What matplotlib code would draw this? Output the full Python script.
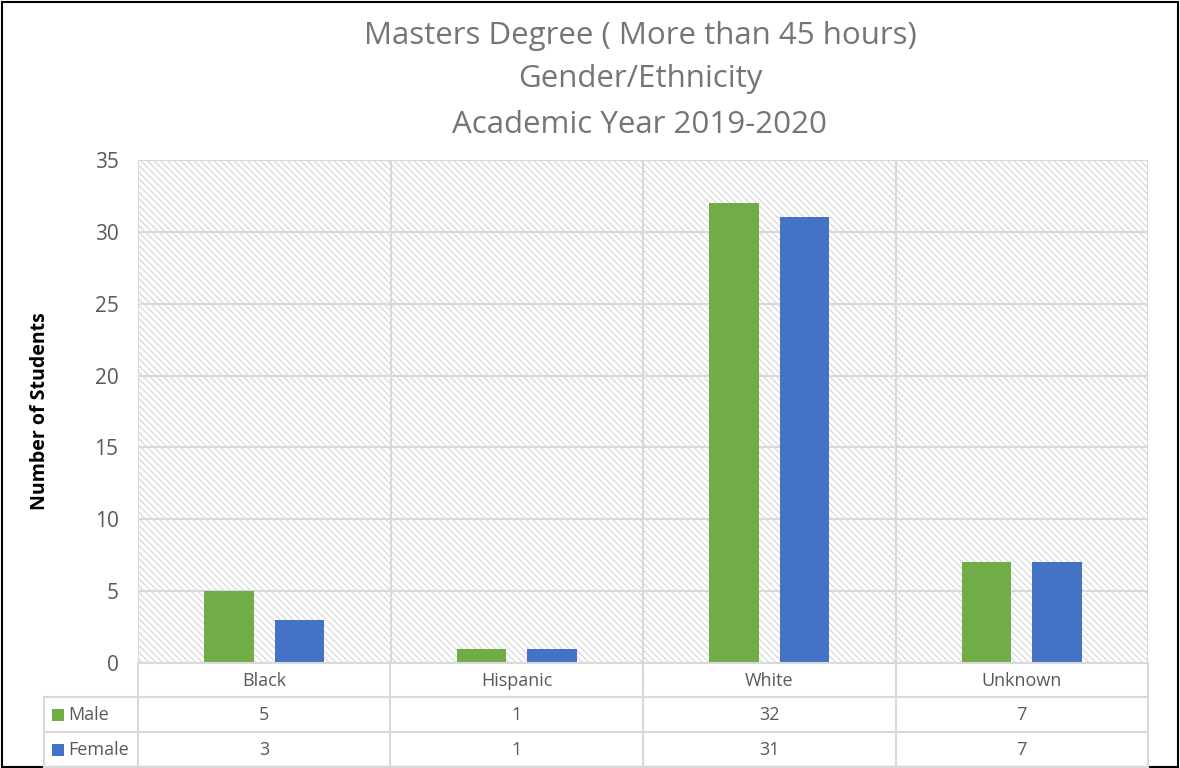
import matplotlib.pyplot as plt
import numpy as np

categories = ["Black", "Hispanic", "White", "Unknown"]
male = [5, 1, 32, 7]
female = [3, 1, 31, 7]
series_names = ["Male", "Female"]
y_ticks = [0, 5, 10, 15, 20, 25, 30, 35]

title_lines = ["Masters Degree ( More than 45 hours)", "Gender/Ethnicity", "Academic Year 2019-2020"]

green = "#70ad47"
blue = "#4472c4"
grid_col = "#d9d9d9"
text_col = "#595959"

plt.rcParams['font.family'] = ['Open Sans', 'DejaVu Sans']
plt.rcParams['hatch.color'] = "#d4d4d4"
plt.rcParams['hatch.linewidth'] = 0.8

W, H = 1180, 768
fig = plt.figure(figsize=(W / 100, H / 100), dpi=100)

def fx(px):
    return px / W

def fy(py):
    return 1 - py / H

# plot area
x0, x1, ytop, ybot = 138, 1148, 160, 663
ax = fig.add_axes([fx(x0), fy(ybot), fx(x1) - fx(x0), fy(ytop) - fy(ybot)])
ax.set_xlim(0, len(categories))
ax.set_ylim(0, 35)

# hatched background
ax.add_patch(plt.Rectangle((0, 0), len(categories), 35, facecolor="white",
                           edgecolor="#d4d4d4", hatch="\\\\\\\\\\", linewidth=0, zorder=0))

x = np.arange(len(categories)) + 0.5
bw = 0.195
off = 0.14
ax.bar(x - off, male, bw, color=green, zorder=3)
ax.bar(x + off, female, bw, color=blue, zorder=3)

ax.set_yticks(y_ticks)
ax.set_yticklabels([str(t) for t in y_ticks], fontsize=15, color=text_col)
ax.tick_params(axis="y", length=0, pad=14)
ax.set_xticks([])
for t in y_ticks:
    ax.axhline(t, color=grid_col, linewidth=1.5, zorder=1)
for i in range(len(categories) + 1):
    ax.axvline(i, color=grid_col, linewidth=1.5, zorder=1)
for s in ax.spines.values():
    s.set_visible(False)

ax.set_ylabel("Number of Students", fontsize=14, fontweight="bold", color="black")
ax.yaxis.set_label_coords((fx(50) - fx(x0)) / (fx(x1) - fx(x0)), 0.5)

# data table
row_lines = [663, 697, 732, 767]
col_w = (x1 - x0) / len(categories)
for i, yy in enumerate(row_lines):
    left = x0 if i == 0 else 44
    fig.add_artist(plt.Line2D([fx(left), fx(x1)], [fy(yy), fy(yy)], color=grid_col, linewidth=1.5))
for i in range(len(categories) + 1):
    xx = x0 + i * col_w
    fig.add_artist(plt.Line2D([fx(xx), fx(xx)], [fy(663), fy(767)], color=grid_col, linewidth=1.5))
fig.add_artist(plt.Line2D([fx(44), fx(44)], [fy(697), fy(767)], color=grid_col, linewidth=1.5))

row_centers = [681, 715, 750]
for i, c in enumerate(categories):
    cx = x0 + (i + 0.5) * col_w
    fig.text(fx(cx), fy(row_centers[0]), c, ha="center", va="center", fontsize=13, color=text_col)
    fig.text(fx(cx), fy(row_centers[1]), str(male[i]), ha="center", va="center", fontsize=13, color=text_col)
    fig.text(fx(cx), fy(row_centers[2]), str(female[i]), ha="center", va="center", fontsize=13, color=text_col)

for name, col, yc in zip(series_names, [green, blue], row_centers[1:]):
    fig.add_artist(plt.Rectangle((fx(52), fy(yc + 6)), fx(12), fy(0) - fy(12), facecolor=col, edgecolor="none"))
    fig.text(fx(68), fy(yc), name, ha="left", va="center", fontsize=13, color=text_col)

# title
for line, yc in zip(title_lines, [36, 79, 125]):
    fig.text(fx(640), fy(yc), line, ha="center", va="center", fontsize=22.5, color="#757575")

# outer border
fig.add_artist(plt.Rectangle((fx(2), fy(767)), fx(1176), fy(2) - fy(767), fill=False,
                             edgecolor="black", linewidth=1.5))

fig.savefig("out.png", dpi=100)
